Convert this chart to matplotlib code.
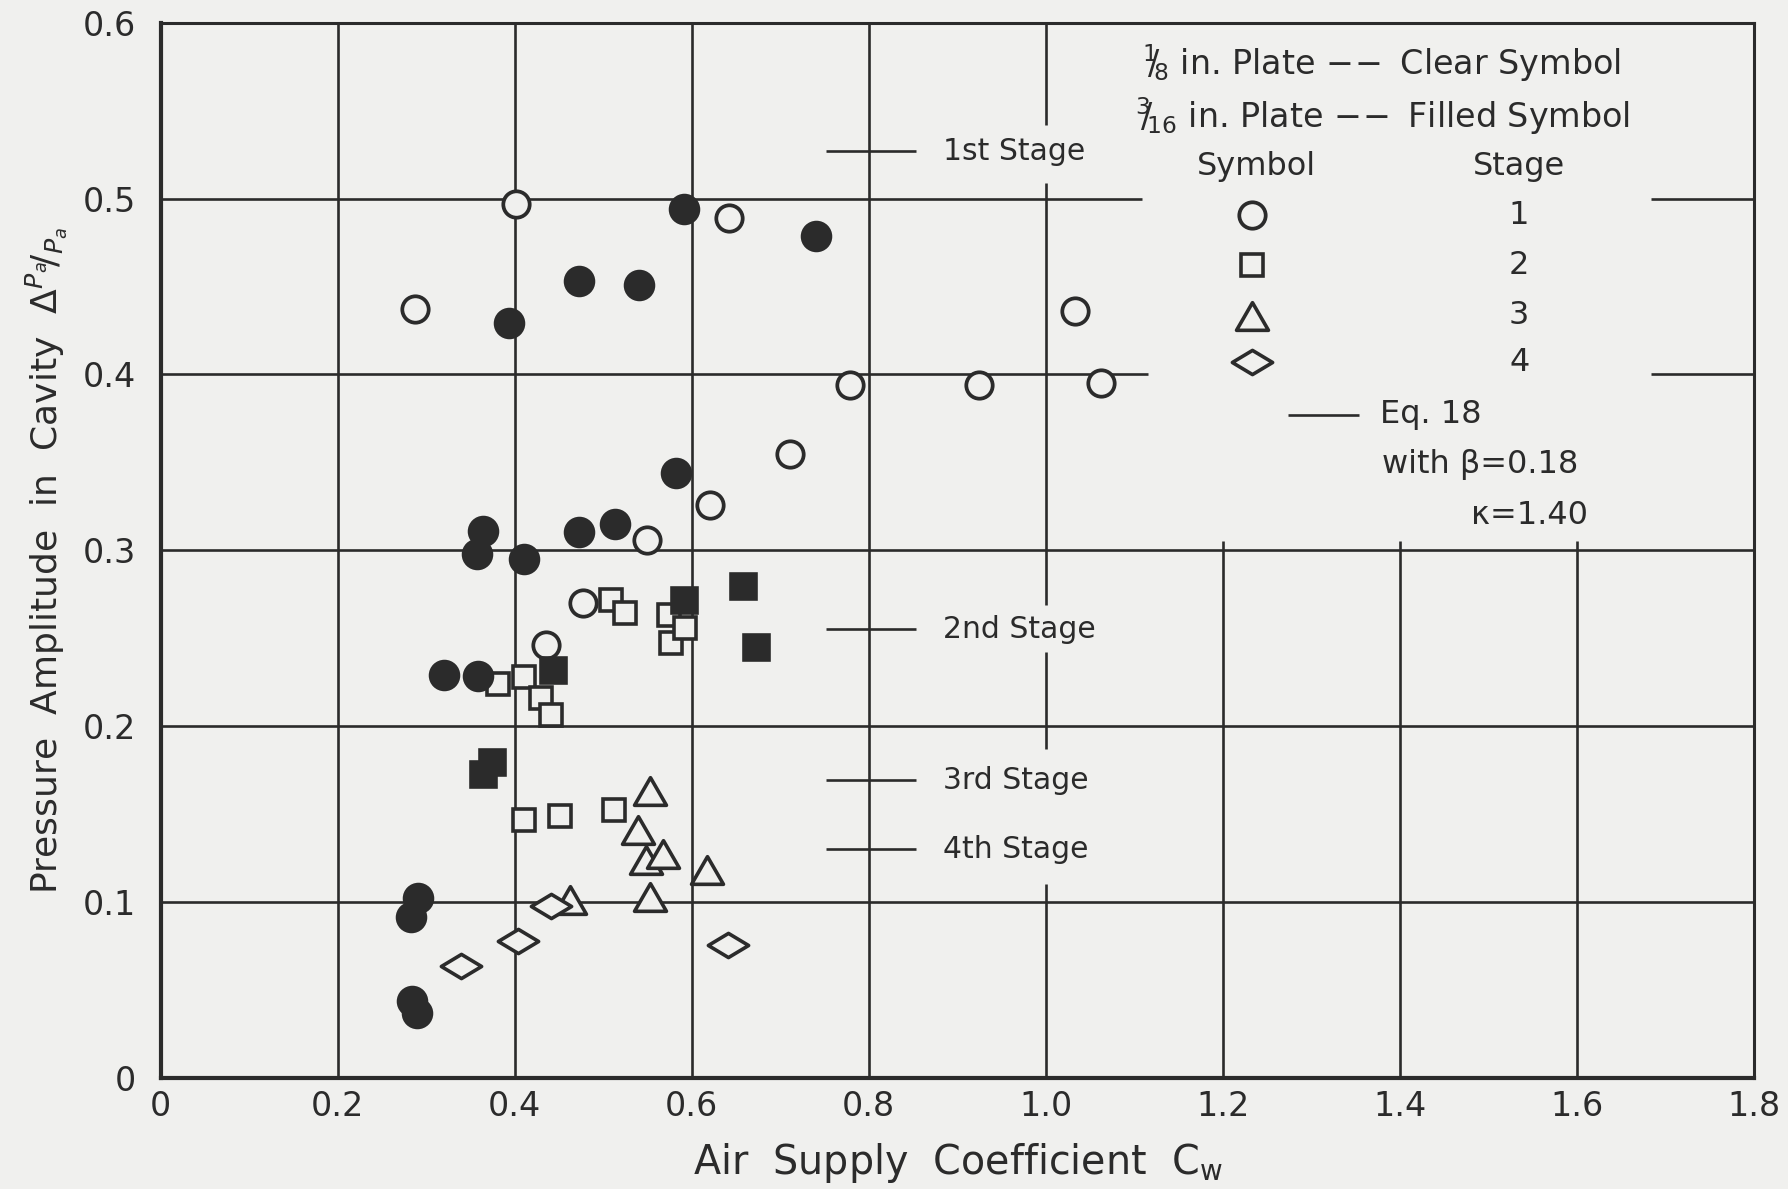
import matplotlib
matplotlib.use('Agg')
import matplotlib.pyplot as plt
from matplotlib.path import Path

# ---------------- data ----------------
# Stage 1, 1/8 in. plate (clear circles)
clear_circle_x = [0.287, 0.401, 0.642, 1.033, 0.779, 0.925, 1.063, 0.711, 0.621, 0.549, 0.477, 0.435]
clear_circle_y = [0.437, 0.497, 0.489, 0.436, 0.394, 0.394, 0.395, 0.355, 0.3255, 0.306, 0.270, 0.246]
# Stage 1, 3/16 in. plate (filled circles)
filled_circle_x = [0.591, 0.741, 0.473, 0.540, 0.393, 0.582, 0.364, 0.357, 0.473, 0.513, 0.411,
                   0.320, 0.359, 0.291, 0.283, 0.284, 0.290]
filled_circle_y = [0.494, 0.479, 0.453, 0.451, 0.429, 0.344, 0.311, 0.298, 0.3105, 0.315, 0.295,
                   0.229, 0.2285, 0.102, 0.0915, 0.0434, 0.0368]
# Stage 2, clear squares
clear_square_x = [0.381, 0.411, 0.430, 0.441, 0.509, 0.525, 0.574, 0.577, 0.592, 0.411, 0.451, 0.5125]
clear_square_y = [0.224, 0.228, 0.216, 0.206, 0.2715, 0.2645, 0.263, 0.247, 0.2555, 0.1467, 0.1487, 0.152]
# Stage 2, filled squares
filled_square_x = [0.443, 0.591, 0.658, 0.673, 0.374, 0.364]
filled_square_y = [0.232, 0.2715, 0.2795, 0.245, 0.1795, 0.1727]
# Stage 3, clear triangles
clear_triangle_x = [0.553, 0.539, 0.548, 0.568, 0.617, 0.553, 0.463]
clear_triangle_y = [0.163, 0.141, 0.124, 0.127, 0.118, 0.1025, 0.101]
# Stage 4, clear diamonds
clear_diamond_x = [0.441, 0.404, 0.339, 0.641]
clear_diamond_y = [0.0975, 0.0775, 0.0637, 0.0757]

# Eq. 18 stage levels
stage_levels = [0.527, 0.255, 0.169, 0.130]
stage_names = ['1st Stage', '2nd Stage', '3rd Stage', '4th Stage']

x_ticks = [0, 0.2, 0.4, 0.6, 0.8, 1.0, 1.2, 1.4, 1.6, 1.8]
x_tick_labels = ['0', '0.2', '0.4', '0.6', '0.8', '1.0', '1.2', '1.4', '1.6', '1.8']
y_ticks = [0, 0.1, 0.2, 0.3, 0.4, 0.5, 0.6]
y_tick_labels = ['0', '0.1', '0.2', '0.3', '0.4', '0.5', '0.6']

legend_stage_numbers = ['1', '2', '3', '4']

# ---------------- style ----------------
BG = '#f0f0ee'
INK = '#2b2b2b'
plt.rcParams['font.family'] = ['DejaVu Sans']
plt.rcParams['mathtext.fontset'] = 'dejavusans'

tri_marker = Path([(0, 0.866), (-1, -0.866), (1, -0.866), (0, 0)], closed=True)
dia_marker = Path([(-1, 0), (0, 0.6), (1, 0), (0, -0.6), (0, 0)], closed=True)

CIRC = dict(marker='o', ms=19, mew=2.7)
FCIRC = dict(marker='o', ms=20, mew=2.7)
SQ = dict(marker='s', ms=16.5, mew=2.6)
FSQ = dict(marker='s', ms=18, mew=2.6)
TRI = dict(marker=tri_marker, ms=23, mew=2.6)
DIA = dict(marker=dia_marker, ms=29, mew=2.6)

fig = plt.figure(figsize=(17.88, 11.89), dpi=100, facecolor=BG)
ax = fig.add_axes([0.0899, 0.0937, 0.8909, 0.8871], facecolor=BG)
ax.set_xlim(0, 1.8)
ax.set_ylim(0, 0.6)

# ---------------- hand-drawn grid (with gaps as in the original) ----------------
GLW = 1.9
ax.hlines([0.1, 0.2, 0.3], 0, 1.8, color=INK, lw=GLW, zorder=1)
ax.hlines([0.4, 0.5], 0, [1.116, 1.109], color=INK, lw=GLW, zorder=1)
ax.hlines([0.4, 0.5], 1.684, 1.8, color=INK, lw=GLW, zorder=1)
ax.vlines([0.2, 0.4, 0.6, 0.8], 0, 0.6, color=INK, lw=GLW, zorder=1)
ax.vlines([1.0, 1.0, 1.0, 1.0], [0.542, 0.269, 0.187, 0.0], [0.6, 0.509, 0.242, 0.110],
          color=INK, lw=GLW, zorder=1)
ax.vlines([1.2, 1.4, 1.6], 0, 0.305, color=INK, lw=GLW, zorder=1)

for sp in ['left', 'bottom']:
    ax.spines[sp].set_linewidth(3.0)
for sp in ['top', 'right']:
    ax.spines[sp].set_linewidth(2.2)
for sp in ax.spines.values():
    sp.set_color(INK)

# ---------------- Eq. 18 stage lines ----------------
for lvl, name in zip(stage_levels, stage_names):
    ax.hlines(lvl, 0.752, 0.854, color=INK, lw=GLW, zorder=1)
    ax.text(0.884, lvl, name, fontsize=21.5, color=INK, ha='left', va='center', zorder=2)

# ---------------- data points ----------------
common_open = dict(ls='none', mfc=BG, mec=INK, zorder=3)
common_fill = dict(ls='none', mfc=INK, mec=INK, zorder=4)
ax.plot(filled_circle_x, filled_circle_y, **FCIRC, **common_fill)
ax.plot(clear_circle_x, clear_circle_y, **CIRC, **common_open)
ax.plot(clear_square_x, clear_square_y, **SQ, **common_open)
ax.plot(filled_square_x, filled_square_y, **FSQ, **common_fill)
ax.plot(clear_triangle_x, clear_triangle_y, **TRI, **common_open)
ax.plot(clear_diamond_x, clear_diamond_y, **DIA, ls='none', mfc=BG, mec=INK, zorder=5)

# ---------------- legend block (drawn as in the original) ----------------
ax.text(1.3795, 0.577, r'$^{1}\!\!/\!_{8}$ in. Plate $-\!-$ Clear Symbol', fontsize=24,
        color=INK, ha='center', va='center')
ax.text(1.381, 0.547, r'$^{3}\!\!/\!_{16}$ in. Plate $-\!-$ Filled Symbol', fontsize=24,
        color=INK, ha='center', va='center')
ax.text(1.238, 0.518, 'Symbol', fontsize=23, color=INK, ha='center', va='center')
ax.text(1.535, 0.518, 'Stage', fontsize=23, color=INK, ha='center', va='center')
legend_marker_y = [0.4906, 0.462, 0.4335, 0.407]
ax.plot([1.233], [legend_marker_y[0]], **CIRC, **common_open)
ax.plot([1.233], [legend_marker_y[1]], **SQ, **common_open)
ax.plot([1.233], [legend_marker_y[2]], **TRI, **common_open)
ax.plot([1.233], [legend_marker_y[3]], **DIA, **common_open)
for yy, num in zip(legend_marker_y, legend_stage_numbers):
    ax.text(1.535, yy, num, fontsize=23, color=INK, ha='center', va='center')
ax.hlines(0.377, 1.274, 1.354, color=INK, lw=GLW)
ax.text(1.378, 0.377, 'Eq. 18', fontsize=23, color=INK, ha='left', va='center')
ax.text(1.380, 0.349, 'with β=0.18', fontsize=23, color=INK, ha='left', va='center')
ax.text(1.481, 0.3195, 'κ=1.40', fontsize=23, color=INK, ha='left', va='center')

# ---------------- ticks and labels ----------------
ax.set_xticks(x_ticks)
ax.set_xticklabels(x_tick_labels)
ax.set_yticks(y_ticks)
ax.set_yticklabels(y_tick_labels)
ax.tick_params(axis='both', length=0, labelsize=24, colors=INK)
ax.tick_params(axis='y', pad=18)
ax.tick_params(axis='x', pad=9)

ax.text(0.5005, -0.081, r'Air  Supply  Coefficient  $\mathrm{C_w}$', transform=ax.transAxes,
        fontsize=28.5, color=INK, ha='center', va='center')
ax.text(-0.072, 0.49, r'Pressure  Amplitude  in  Cavity  $\Delta^{P_a}\!/_{P_a}$',
        transform=ax.transAxes, fontsize=26, color=INK, ha='center', va='center', rotation=90)

fig.savefig('out.png', dpi=100, facecolor=fig.get_facecolor())
